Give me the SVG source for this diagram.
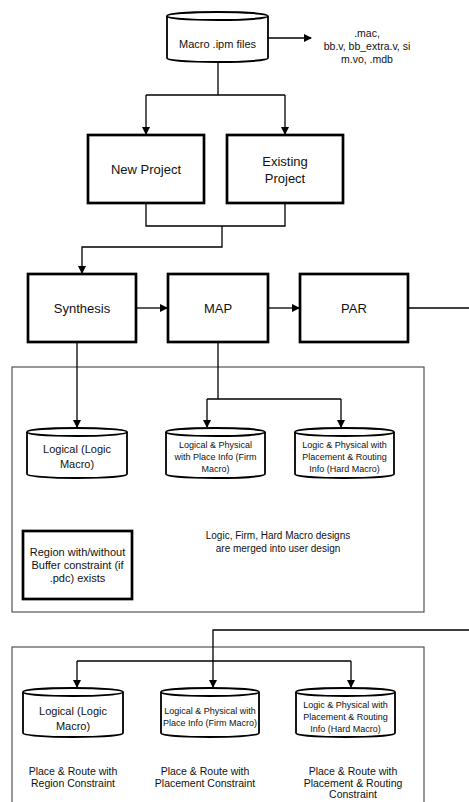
<svg xmlns="http://www.w3.org/2000/svg" width="469" height="802" viewBox="0 0 469 802">
<style>
.box{fill:#fff;stroke:#000;stroke-width:2.7}
.cyl{fill:#fff;stroke:#000;stroke-width:1.8}
.cont{fill:none;stroke:#444;stroke-width:1.1}
.c{fill:none;stroke:#000;stroke-width:1.3}
text{font-family:"Liberation Sans",Arial,sans-serif;fill:#111;text-anchor:middle}
.t13{font-size:13px}
.t11{font-size:11px}
.t105{font-size:10.5px}
.t10{font-size:10px}
.t9{font-size:9px}
</style>
<defs>
<marker id="ah" markerWidth="8" markerHeight="8" refX="7" refY="4" orient="auto" markerUnits="userSpaceOnUse">
<path d="M0,0 L8,4 L0,8 Z" fill="#000"/>
</marker>
</defs>
<rect x="0" y="0" width="469" height="802" fill="#fff"/>

<g id="containers">
<rect id="container1" class="cont" x="12" y="367" width="412" height="245"/>
<rect id="container2" class="cont" x="12" y="647" width="412" height="170"/>
</g>

<g id="connectors">
<path class="c" d="M268,38 H311" marker-end="url(#ah)"/>
<path class="c" d="M218,62 V95"/>
<path class="c" d="M146,95 H285"/>
<path class="c" d="M146,95 V134" marker-end="url(#ah)"/>
<path class="c" d="M285,95 V134" marker-end="url(#ah)"/>
<path class="c" d="M146,203 V226 H285 V203"/>
<path class="c" d="M222,226 V247 H82 V273" marker-end="url(#ah)"/>
<path class="c" d="M136,308 H167" marker-end="url(#ah)"/>
<path class="c" d="M268,308 H299" marker-end="url(#ah)"/>
<path class="c" d="M408,308 H469"/>
<path class="c" d="M77,342 V427" marker-end="url(#ah)"/>
<path class="c" d="M218,342 V399"/>
<path class="c" d="M207,399 H341"/>
<path class="c" d="M207,399 V427" marker-end="url(#ah)"/>
<path class="c" d="M341,399 V427" marker-end="url(#ah)"/>
<path class="c" d="M469,630 H213 V687" marker-end="url(#ah)"/>
<path class="c" d="M77,661 H351"/>
<path class="c" d="M77,661 V687" marker-end="url(#ah)"/>
<path class="c" d="M351,661 V687" marker-end="url(#ah)"/>
</g>

<g id="macro-ipm">
<path class="cyl" d="M167,16 A50.5,4 0 0 1 268,16 V58 A50.5,4 0 0 1 167,58 Z"/>
<path class="cyl" d="M167,16 A50.5,4 0 0 0 268,16"/>
<text class="t11" x="217.5" y="48">Macro .ipm files</text>
</g>
<g id="outputs-text">
<text class="t105" x="367" y="37">.mac,</text>
<text class="t105" x="367" y="50">bb.v, bb_extra.v, si</text>
<text class="t105" x="367" y="63">m.vo, .mdb</text>
</g>

<g id="new-project">
<rect class="box" x="88" y="135" width="116" height="68"/>
<text class="t13" x="146" y="174">New Project</text>
</g>
<g id="existing-project">
<rect class="box" x="227" y="135" width="116" height="68"/>
<text class="t13" x="285" y="166">Existing</text>
<text class="t13" x="285" y="183">Project</text>
</g>

<g id="synthesis">
<rect class="box" x="28" y="274" width="108" height="68"/>
<text class="t13" x="82" y="313">Synthesis</text>
</g>
<g id="map">
<rect class="box" x="168" y="274" width="100" height="68"/>
<text class="t13" x="218" y="313">MAP</text>
</g>
<g id="par">
<rect class="box" x="300" y="274" width="108" height="68"/>
<text class="t13" x="354" y="313">PAR</text>
</g>

<g id="logical-1">
<path class="cyl" d="M27,432 A50,4 0 0 1 127,432 V474 A50,4 0 0 1 27,474 Z"/>
<path class="cyl" d="M27,432 A50,4 0 0 0 127,432"/>
<text class="t11" x="77" y="453">Logical (Logic</text>
<text class="t11" x="77" y="468">Macro)</text>
</g>
<g id="firm-1">
<path class="cyl" d="M166,432 A49.5,4 0 0 1 265,432 V474 A49.5,4 0 0 1 166,474 Z"/>
<path class="cyl" d="M166,432 A49.5,4 0 0 0 265,432"/>
<text class="t9" x="215.5" y="448">Logical &amp; Physical</text>
<text class="t9" x="215.5" y="460">with Place Info (Firm</text>
<text class="t9" x="215.5" y="472">Macro)</text>
</g>
<g id="hard-1">
<path class="cyl" d="M295,432 A49.5,4 0 0 1 394,432 V474 A49.5,4 0 0 1 295,474 Z"/>
<path class="cyl" d="M295,432 A49.5,4 0 0 0 394,432"/>
<text class="t9" x="344.5" y="448">Logic &amp; Physical with</text>
<text class="t9" x="344.5" y="460">Placement &amp; Routing</text>
<text class="t9" x="344.5" y="472">Info (Hard Macro)</text>
</g>

<g id="region-box">
<rect class="box" x="23" y="531" width="109" height="68"/>
<text class="t11" x="77.5" y="556">Region with/without</text>
<text class="t11" x="77.5" y="569">Buffer constraint (if</text>
<text class="t11" x="77.5" y="582">.pdc) exists</text>
</g>
<g id="merge-text">
<text class="t10" x="278" y="539">Logic, Firm, Hard Macro designs</text>
<text class="t10" x="278" y="552">are merged into user design</text>
</g>

<g id="logical-2">
<path class="cyl" d="M23,692 A50,4 0 0 1 123,692 V733 A50,4 0 0 1 23,733 Z"/>
<path class="cyl" d="M23,692 A50,4 0 0 0 123,692"/>
<text class="t11" x="73" y="715">Logical (Logic</text>
<text class="t11" x="73" y="730">Macro)</text>
</g>
<g id="firm-2">
<path class="cyl" d="M161,692 A49,4 0 0 1 259,692 V733 A49,4 0 0 1 161,733 Z"/>
<path class="cyl" d="M161,692 A49,4 0 0 0 259,692"/>
<text class="t9" x="210" y="714">Logical &amp; Physical with</text>
<text class="t9" x="210" y="726">Place Info (Firm Macro)</text>
</g>
<g id="hard-2">
<path class="cyl" d="M296,692 A49.5,4 0 0 1 395,692 V733 A49.5,4 0 0 1 296,733 Z"/>
<path class="cyl" d="M296,692 A49.5,4 0 0 0 395,692"/>
<text class="t9" x="345.5" y="708">Logic &amp; Physical with</text>
<text class="t9" x="345.5" y="720">Placement &amp; Routing</text>
<text class="t9" x="345.5" y="732">Info (Hard Macro)</text>
</g>

<g id="pr-texts">
<text class="t105" x="73" y="775">Place &amp; Route with</text>
<text class="t105" x="73" y="787">Region Constraint</text>
<text class="t105" x="205" y="775">Place &amp; Route with</text>
<text class="t105" x="205" y="787">Placement Constraint</text>
<text class="t105" x="353" y="775">Place &amp; Route with</text>
<text class="t105" x="353" y="787">Placement &amp; Routing</text>
<text class="t105" x="353" y="798">Constraint</text>
</g>
</svg>
